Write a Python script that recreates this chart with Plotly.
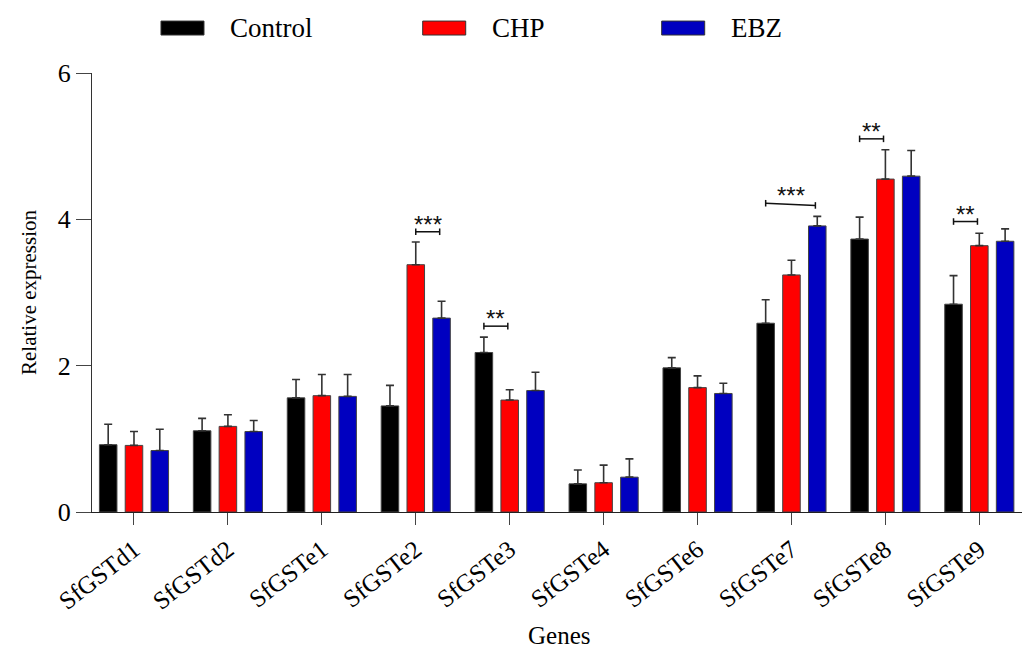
import plotly.graph_objects as go

genes = ["SfGSTd1", "SfGSTd2", "SfGSTe1", "SfGSTe2", "SfGSTe3",
         "SfGSTe4", "SfGSTe6", "SfGSTe7", "SfGSTe8", "SfGSTe9"]
groups = ["Control", "CHP", "EBZ"]
colors = ["#000000", "#FF0000", "#0000C0"]

control = [0.92, 1.11, 1.56, 1.45, 2.18, 0.385, 1.97, 2.58, 3.73, 2.84]
control_err = [0.28, 0.17, 0.25, 0.28, 0.21, 0.19, 0.14, 0.32, 0.30, 0.39]
chp = [0.91, 1.17, 1.59, 3.38, 1.53, 0.40, 1.70, 3.24, 4.55, 3.64]
chp_err = [0.19, 0.16, 0.29, 0.31, 0.14, 0.24, 0.16, 0.20, 0.40, 0.17]
ebz = [0.84, 1.10, 1.58, 2.65, 1.66, 0.476, 1.62, 3.91, 4.59, 3.70]
ebz_err = [0.29, 0.15, 0.30, 0.23, 0.25, 0.25, 0.14, 0.13, 0.35, 0.17]

# significance brackets: gene index, from group, to group, y-left, y-right, label
sig_gene = [3, 4, 7, 8, 9]
sig_from = [1, 0, 0, 0, 0]
sig_to = [2, 1, 2, 1, 1]
sig_y0 = [3.83, 2.54, 4.22, 5.10, 3.97]
sig_y1 = [3.83, 2.54, 4.19, 5.10, 3.97]
sig_label = ["***", "**", "***", "**", "**"]

values = [control, chp, ebz]
errors = [control_err, chp_err, ebz_err]

SERIF = "Liberation Serif"
fig = go.Figure()
for name, col, v, e in zip(groups, colors, values, errors):
    fig.add_trace(go.Bar(
        name=name, x=genes, y=v,
        marker=dict(color=col, line=dict(color="#444444", width=1)),
        error_y=dict(type="data", array=e, symmetric=False, arrayminus=[0]*len(e),
                     color="#333333", thickness=1.6, width=4),
        showlegend=False,
    ))

BARGAP = 0.176
slot = (1 - BARGAP) / 3
offsets = [-slot, 0, slot]

shapes = []
annotations = []
for g, a, b, y0, y1, lab in zip(sig_gene, sig_from, sig_to, sig_y0, sig_y1, sig_label):
    xa = g + offsets[a]
    xb = g + offsets[b] - 0.02
    shapes.append(dict(type="line", xref="x", yref="y", x0=xa, x1=xb, y0=y0, y1=y1,
                       line=dict(color="#111111", width=1.5)))
    for xx, yy in ((xa, y0), (xb, y1)):
        shapes.append(dict(type="line", xref="x", yref="y", x0=xx, x1=xx,
                           y0=yy - 0.045, y1=yy + 0.045,
                           line=dict(color="#111111", width=1.5)))
    annotations.append(dict(x=(xa + xb) / 2, y=max(y0, y1), xref="x", yref="y",
                            text=lab, showarrow=False, yanchor="bottom", yshift=-8,
                            font=dict(family="Liberation Sans", size=24, color="#111111")))

# legend drawn at top
leg_x = [0.0741, 0.3552, 0.6119]
for name, col, lx in zip(groups, colors, leg_x):
    shapes.append(dict(type="rect", xref="paper", yref="paper",
                       x0=lx, x1=lx + 0.0462, y0=1.0865, y1=1.1183,
                       fillcolor=col, line=dict(color="#333333", width=1)))
    annotations.append(dict(x=lx + 0.0720, y=1.1024, xref="paper", yref="paper",
                            text=name, showarrow=False, xanchor="left", yanchor="middle",
                            font=dict(family=SERIF, size=27, color="#000000")))

# x-axis title
annotations.append(dict(x=0.502, y=-0.281, xref="paper", yref="paper", text="Genes",
                        showarrow=False, xanchor="center", yanchor="middle",
                        font=dict(family=SERIF, size=25, color="#000000")))

# page body has an 8px default margin, so the figure is sized to fit the window
fig.update_layout(
    width=1022, height=644,
    margin=dict(l=84, r=7, t=65, b=139.5),
    paper_bgcolor="white", plot_bgcolor="white",
    barmode="group", bargap=BARGAP, bargroupgap=0.32,
    font=dict(family=SERIF, color="#000000"),
    shapes=shapes, annotations=annotations,
    xaxis=dict(
        range=[-0.447, 9.465], showline=True, linecolor="#222222", linewidth=1.3,
        ticks="outside", ticklen=12, tickcolor="#444444", tickwidth=1.3,
        tickangle=-38, tickfont=dict(family=SERIF, size=25, color="#000000"),
        showgrid=False, zeroline=False, automargin=False,
    ),
    yaxis=dict(
        range=[0, 6], tickvals=[0, 2, 4, 6], showline=True, linecolor="#333333",
        linewidth=1.3, ticks="outside", ticklen=15, tickcolor="#444444", tickwidth=1.3,
        tickfont=dict(family=SERIF, size=26, color="#000000"),
        showgrid=False, zeroline=False, automargin=False,
        title=dict(text="Relative expression", font=dict(family=SERIF, size=21), standoff=15),
    ),
)

fig.write_html("out.html")
